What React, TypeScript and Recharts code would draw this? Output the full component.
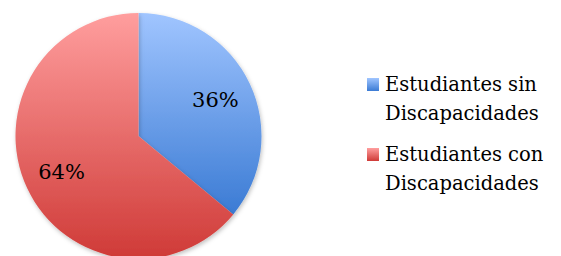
import React from 'react';
import { PieChart, Pie, Cell, Legend } from 'recharts';

const categories = ['Estudiantes sin Discapacidades', 'Estudiantes con Discapacidades'];
const legendLines = [
  ['Estudiantes sin', 'Discapacidades'],
  ['Estudiantes con', 'Discapacidades'],
];
const values = [36, 64];

const gradients = [
  { id: 'gradBlue', top: '#a0c5ff', bottom: '#3b7bd4' },
  { id: 'gradRed', top: '#ff9e9e', bottom: '#cf3a37' },
];

const data = categories.map((name, i) => ({ name, value: values[i] }));

const FONT = '"DejaVu Serif", serif';
const RADIAN = Math.PI / 180;

const renderLabel = (props: any) => {
  const { cx, cy, midAngle, percent } = props;
  const r = 85;
  const x = cx + r * Math.cos(-midAngle * RADIAN);
  const y = cy + r * Math.sin(-midAngle * RADIAN);
  return (
    <text x={x} y={y} fill="#000" textAnchor="middle" dominantBaseline="central" style={{ fontFamily: FONT }} fontSize={21}>
      {`${Math.round(percent * 100)}%`}
    </text>
  );
};

const renderLegend = () => (
  <div style={{ fontSize: 19.5, color: '#000', fontFamily: FONT }}>
    {legendLines.map((lines, i) => (
      <div key={i} style={{ display: 'flex', alignItems: 'flex-start', marginBottom: i === 0 ? 12 : 0 }}>
        <div
          style={{
            width: 12,
            height: 13,
            marginTop: 8,
            marginRight: 6,
            flexShrink: 0,
            background: `linear-gradient(${gradients[i].top}, ${gradients[i].bottom})`,
          }}
        />
        <div style={{ lineHeight: '29px', whiteSpace: 'nowrap' }}>
          {lines.map((l) => (
            <div key={l}>{l}</div>
          ))}
        </div>
      </div>
    ))}
  </div>
);

export default function App() {
  return (
    <div style={{ position: 'fixed', left: 0, top: 0, width: 561, height: 256, background: '#fff' }}>
      <PieChart width={561} height={256} margin={{ top: 0, right: 0, bottom: 0, left: 0 }}>
        <defs>
          {gradients.map((g) => (
            <linearGradient key={g.id} id={g.id} x1="0" y1="0" x2="0" y2="1">
              <stop offset="0%" stopColor={g.top} />
              <stop offset="100%" stopColor={g.bottom} />
            </linearGradient>
          ))}
          <filter id="shadow" x="-10%" y="-10%" width="120%" height="120%">
            <feDropShadow dx="1" dy="2" stdDeviation="2" floodColor="#000" floodOpacity="0.25" />
          </filter>
        </defs>
        <Pie
          data={data}
          dataKey="value"
          nameKey="name"
          cx={138.5}
          cy={136}
          outerRadius={123}
          startAngle={90}
          endAngle={-270}
          stroke="none"
          labelLine={false}
          label={renderLabel}
          isAnimationActive={false}
          style={{ filter: 'url(#shadow)' }}
        >
          {data.map((d, i) => (
            <Cell key={d.name} fill={`url(#${gradients[i].id})`} />
          ))}
        </Pie>
        <Legend
          layout="vertical"
          content={renderLegend}
          wrapperStyle={{ position: 'absolute', left: 367, top: 70, width: 194 }}
        />
      </PieChart>
    </div>
  );
}
